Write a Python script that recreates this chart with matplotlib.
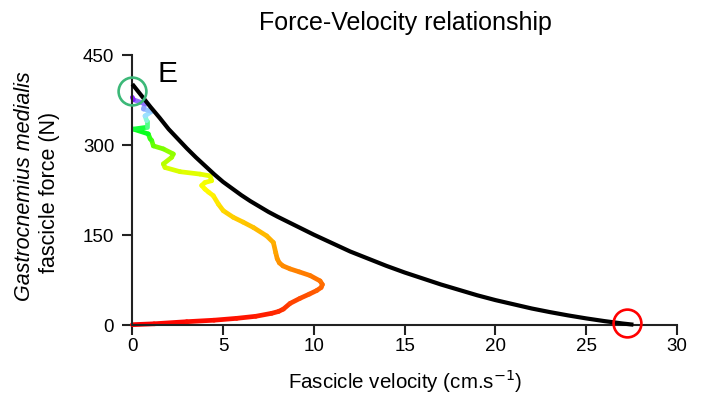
import numpy as np
import matplotlib.pyplot as plt
from matplotlib.collections import LineCollection
from matplotlib.colors import LinearSegmentedColormap

plt.rcParams['font.family'] = ['Liberation Sans', 'DejaVu Sans']

# black force-velocity curve
fv_vel = [0, 0.5, 1.0, 1.5, 2.0, 2.5, 3.0, 3.5, 4.0, 4.5, 5.0, 5.5, 6.0,
          6.5, 7.0, 7.5, 8.0, 9.0, 10.0, 11.0, 12.0, 13.0, 14.0, 15.0,
          16.0, 17.0, 18.0, 19.0, 20.0, 21.0, 22.0, 23.0, 24.0, 25.0,
          26.0, 27.0, 27.6]
fv_force = [401, 382, 363, 345, 326, 310, 294, 279, 265, 251, 238, 227, 216,
            206, 197, 188, 180, 165, 150, 136, 122, 110, 98, 87,
            77, 67, 58, 49, 41, 34, 27, 21, 15.5, 10.5,
            6, 2, 0]

# coloured fascicle trajectory
traj_vel = [0, 1.2, 3.0, 4.5, 5.75, 6.8, 7.68, 8.05, 8.32, 8.69, 9.24, 9.75,
            10.16, 10.4, 10.47, 10.34, 9.79, 9.2, 8.69, 8.3, 8.1, 7.98, 7.9,
            7.77, 7.4, 6.67, 6.1, 5.56, 5.01, 4.74, 4.46, 4.2, 4.0, 3.82,
            4.0, 4.37, 4.28, 3.73, 2.63, 1.8, 1.71, 2.17, 2.26, 1.71, 1.16,
            1.07, 0.98, 0.88, 0.06, 0.79, 0.79, 0.7, 1.07, 0.61, 0.7, 0.06,
            0.0]
traj_force = [0, 1.5, 5, 7.5, 10.6, 14, 19, 22, 26, 35.5, 44, 51,
              57, 62, 67, 73, 82, 88, 93, 98, 103, 110, 120,
              137, 148, 162, 171, 179, 190, 201, 215, 221, 226, 232,
              237, 240, 248, 251, 255, 262, 268, 279, 284.5, 293, 298,
              307, 310, 318, 326, 329, 340, 348, 355.5, 359.5, 368, 375,
              379]

# highlighted points
start_pt = (0.0, 390)
end_pt = (27.25, 3)

x_ticks = [0, 5, 10, 15, 20, 25, 30]
y_ticks = [0, 150, 300, 450]

cmap = LinearSegmentedColormap.from_list('traj', [
    (0.0, '#ff0000'), (25 / 400, '#ff3000'), (67 / 400, '#ff6a00'),
    (120 / 400, '#ffa000'), (190 / 400, '#ffd400'), (230 / 400, '#ffff00'),
    (265 / 400, '#d0ff00'), (300 / 400, '#70ff00'), (325 / 400, '#00ff20'),
    (340 / 400, '#70ffb0'), (350 / 400, '#a0f0ff'), (362 / 400, '#8fb0ff'),
    (372 / 400, '#9070ff'), (380 / 400, '#8000ff'), (1.0, '#8000ff')])

fig = plt.figure(figsize=(7.03, 4.02), dpi=100)
ax = fig.add_axes([132.3 / 703, 76.3 / 402, 544.7 / 703, 270 / 402])

pts = np.column_stack([traj_vel, traj_force])
segs = np.stack([pts[:-1], pts[1:]], axis=1)
mid_f = (pts[:-1, 1] + pts[1:, 1]) / 2
lc = LineCollection(segs, colors=cmap(mid_f / 400), linewidths=3.4,
                    capstyle='round', joinstyle='round', clip_on=False, zorder=2)
ax.add_collection(lc)

ax.plot(fv_vel, fv_force, color='black', lw=3.0, zorder=3, clip_on=False,
        solid_capstyle='butt', solid_joinstyle='round')

ax.plot(*start_pt, 'o', ms=20, mfc='none', mec='#3cb878', mew=1.9,
        clip_on=False, zorder=4)
ax.plot(*end_pt, 'o', ms=20, mfc='none', mec='#ff0000', mew=1.9,
        clip_on=False, zorder=4)

ax.set_xlim(0, 30)
ax.set_ylim(0, 450)
ax.set_xticks(x_ticks)
ax.set_yticks(y_ticks)
for s in ['top', 'right']:
    ax.spines[s].set_visible(False)
for s in ['left', 'bottom']:
    ax.spines[s].set_linewidth(1.5)
    ax.spines[s].set_color('#222222')
ax.tick_params(length=7, width=1.5, color='#222222', labelsize=13.5)
ax.tick_params(axis='x', pad=1.5)
ax.tick_params(axis='y', pad=6)

ax.text(158 / 703, 1 - 81.7 / 402, 'E', transform=fig.transFigure,
        fontsize=21.5, va='baseline', ha='left')

fig.text(405 / 703, 1 - 30 / 402, 'Force-Velocity relationship',
         fontsize=18, ha='center', va='baseline')
fig.text(405 / 703, 1 - 389 / 402, 'Fascicle velocity (cm.s$^{-1}$)',
         fontsize=14.8, ha='center', va='baseline')
fig.text(25 / 703, 1 - 186.5 / 402, 'Gastrocnemius medialis', style='italic',
         fontsize=15.5, rotation=90, ha='center', va='center')
fig.text(50 / 703, 1 - 192.5 / 402, 'fascicle force (N)',
         fontsize=15.5, rotation=90, ha='center', va='center')

fig.savefig('out.png', dpi=100)
